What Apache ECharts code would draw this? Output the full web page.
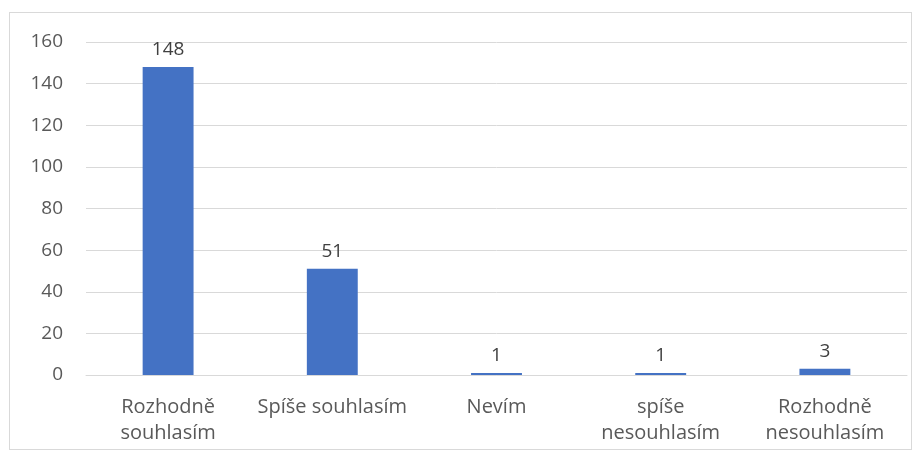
<!DOCTYPE html>
<html><head><meta charset="utf-8">
<script src="https://cdn.jsdelivr.net/npm/echarts@6/dist/echarts.min.js"></script>
<style>html,body{margin:0;padding:0;background:#fff}#c{width:923px;height:460px}
#frame{position:absolute;left:9px;top:12px;width:903px;height:438px;border:1px solid #d9d9d9;box-sizing:border-box;pointer-events:none}</style>
</head><body><div id="c"></div><div id="frame"></div>
<script>
const categories = ['Rozhodně\nsouhlasím', 'Spíše souhlasím', 'Nevím', 'spíše\nnesouhlasím', 'Rozhodně\nnesouhlasím'];
const values = [148, 51, 1, 1, 3];
const yTicks = { min: 0, max: 160, interval: 20 };
const font = 'Open Sans';
const chart = echarts.init(document.getElementById('c'));
chart.setOption({
  animation: false,
  grid: { left: 86, right: 16, top: 42, bottom: 85 },
  xAxis: {
    type: 'category', data: categories,
    axisLine: { show: true, lineStyle: { color: '#d9d9d9', width: 1 } },
    axisTick: { show: false },
    axisLabel: { color: '#595959', fontSize: 20, fontFamily: font, margin: 19, lineHeight: 26, interval: 0 }
  },
  yAxis: {
    type: 'value', min: yTicks.min, max: yTicks.max, interval: yTicks.interval,
    axisLine: { show: false }, axisTick: { show: false },
    splitLine: { lineStyle: { color: '#d9d9d9', width: 1 } },
    axisLabel: { color: '#595959', fontSize: 19, fontFamily: font, margin: 23 }
  },
  series: [{
    type: 'bar', data: values, barWidth: '31%',
    itemStyle: { color: '#4472c4' },
    label: { show: true, position: 'top', distance: 8, color: '#404040', fontSize: 19, fontFamily: font }
  }]
});
</script></body></html>
